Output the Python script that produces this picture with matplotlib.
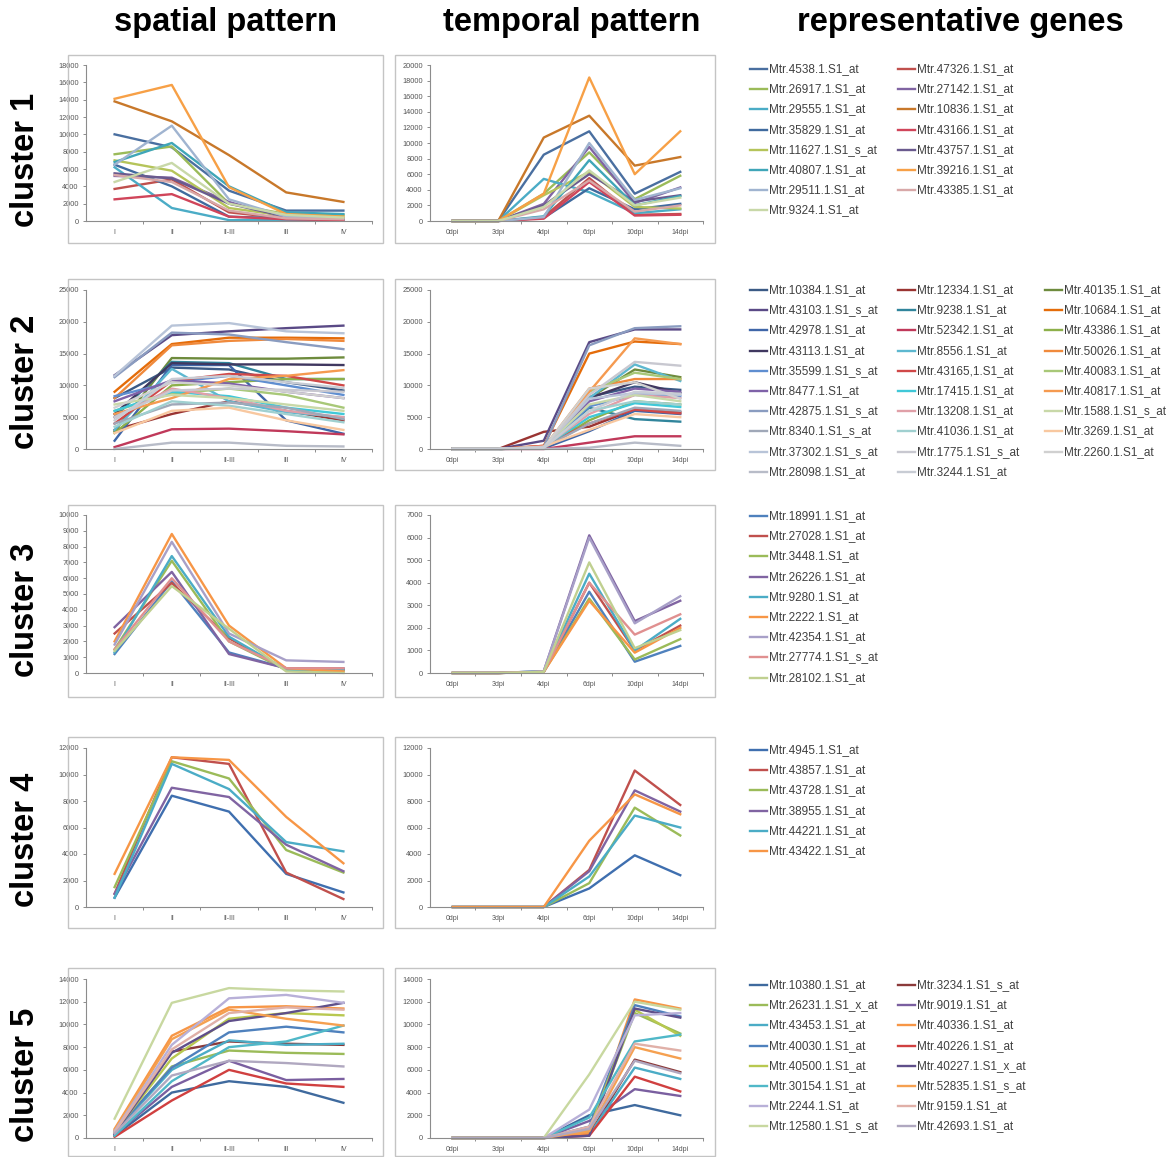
import numpy as np
import matplotlib
matplotlib.use('Agg')
import matplotlib.pyplot as plt
from matplotlib.lines import Line2D
from matplotlib.patches import Rectangle

plt.rcParams['font.family'] = ['Liberation Sans', 'DejaVu Sans']

W, H = 1169, 1157

spatial_stages = ['I', 'II', 'II-III', 'III', 'IV']
temporal_stages = ['0dpi', '3dpi', '4dpi', '6dpi', '10dpi', '14dpi']

# ---- cluster 1 ----
c1_genes = ['Mtr.4538.1.S1_at', 'Mtr.47326.1.S1_at', 'Mtr.26917.1.S1_at', 'Mtr.27142.1.S1_at',
            'Mtr.29555.1.S1_at', 'Mtr.10836.1.S1_at', 'Mtr.35829.1.S1_at', 'Mtr.43166.1.S1_at',
            'Mtr.11627.1.S1_s_at', 'Mtr.43757.1.S1_at', 'Mtr.40807.1.S1_at', 'Mtr.39216.1.S1_at',
            'Mtr.29511.1.S1_at', 'Mtr.43385.1.S1_at', 'Mtr.9324.1.S1_at']
c1_spatial = [
    [10000, 8500, 3500, 1200, 1200],
    [3700, 4800, 1000, 300, 200],
    [7700, 8600, 2000, 800, 700],
    [5200, 5000, 2200, 300, 300],
    [6200, 1500, 100, 100, 100],
    [13800, 11500, 7600, 3300, 2200],
    [6500, 4000, 500, 300, 200],
    [2500, 3100, 500, 200, 100],
    [7000, 5800, 1500, 600, 500],
    [5500, 4900, 2000, 500, 300],
    [6800, 9000, 4000, 1000, 800],
    [14100, 15700, 3900, 800, 500],
    [6500, 11000, 2500, 500, 300],
    [5300, 4500, 1200, 300, 200],
    [4500, 6700, 2000, 700, 400],
]
c1_temporal = [
    [0, 0, 8500, 11500, 3500, 6300],
    [0, 0, 500, 5500, 800, 900],
    [0, 0, 3500, 8800, 2800, 5800],
    [0, 0, 2200, 9500, 2300, 4300],
    [0, 0, 5400, 3700, 1000, 1500],
    [0, 0, 10700, 13500, 7100, 8200],
    [0, 0, 400, 4200, 1500, 2200],
    [0, 0, 300, 5000, 700, 800],
    [0, 0, 3300, 6300, 1800, 1600],
    [0, 0, 2000, 6000, 2500, 3300],
    [0, 0, 600, 7800, 2000, 3200],
    [0, 0, 3500, 18400, 6000, 11500],
    [0, 0, 500, 10000, 2700, 4200],
    [0, 0, 1500, 5200, 1200, 2000],
    [0, 0, 1800, 6500, 2000, 3000],
]

# ---- cluster 2 ----
c2_genes = ['Mtr.10384.1.S1_at', 'Mtr.12334.1.S1_at', 'Mtr.40135.1.S1_at',
            'Mtr.43103.1.S1_s_at', 'Mtr.9238.1.S1_at', 'Mtr.10684.1.S1_at',
            'Mtr.42978.1.S1_at', 'Mtr.52342.1.S1_at', 'Mtr.43386.1.S1_at',
            'Mtr.43113.1.S1_at', 'Mtr.8556.1.S1_at', 'Mtr.50026.1.S1_at',
            'Mtr.35599.1.S1_s_at', 'Mtr.43165,1.S1_at', 'Mtr.40083.1.S1_at',
            'Mtr.8477.1.S1_at', 'Mtr.17415.1.S1_at', 'Mtr.40817.1.S1_at',
            'Mtr.42875.1.S1_s_at', 'Mtr.13208.1.S1_at', 'Mtr.1588.1.S1_s_at',
            'Mtr.8340.1.S1_s_at', 'Mtr.41036.1.S1_at', 'Mtr.3269.1.S1_at',
            'Mtr.37302.1.S1_s_at', 'Mtr.1775.1.S1_s_at', 'Mtr.2260.1.S1_at',
            'Mtr.28098.1.S1_at', 'Mtr.3244.1.S1_at']
c2_spatial = [
    [8000, 12800, 12500, 10500, 9200],
    [3000, 5500, 7500, 6000, 4500],
    [2800, 14300, 14200, 14200, 14400],
    [11600, 17900, 18500, 19000, 19400],
    [5000, 13700, 13500, 11000, 11000],
    [9000, 16500, 17500, 17500, 17400],
    [1300, 13200, 13200, 4500, 2400],
    [300, 3100, 3200, 2800, 2300],
    [2500, 10000, 10500, 11000, 11000],
    [5500, 13500, 13300, 13300, 13200],
    [3000, 12600, 7500, 5800, 5000],
    [8000, 16300, 17000, 17300, 17000],
    [8300, 10500, 11500, 10000, 8500],
    [4000, 10700, 11800, 11500, 10000],
    [6000, 8700, 9500, 8500, 6500],
    [7500, 10800, 10300, 9000, 8000],
    [6000, 9000, 8300, 6500, 5500],
    [5500, 8000, 11000, 11500, 12400],
    [11300, 18300, 18000, 16800, 15700],
    [5000, 9500, 8000, 6000, 5000],
    [7000, 8500, 8000, 7000, 6000],
    [4000, 7000, 7300, 6500, 4700],
    [3500, 7500, 6800, 5500, 4200],
    [2500, 6000, 6500, 4500, 3000],
    [11500, 19400, 19800, 18500, 18200],
    [5000, 9200, 9500, 9300, 9000],
    [6500, 10500, 10000, 9000, 8000],
    [0, 1000, 1000, 500, 400],
    [4500, 11000, 11500, 10500, 9600],
]
c2_temporal = [
    [0, 0, 300, 8200, 9800, 9300],
    [0, 0, 2700, 3500, 6200, 5800],
    [0, 0, 200, 8000, 12500, 11300],
    [0, 0, 1300, 16800, 18800, 18800],
    [0, 0, 300, 6500, 4700, 4300],
    [0, 0, 500, 15000, 16900, 16500],
    [0, 0, 100, 2800, 6000, 5500],
    [0, 0, 0, 1000, 2000, 2000],
    [0, 0, 200, 4500, 7500, 7000],
    [0, 0, 300, 8000, 10500, 8800],
    [0, 0, 200, 8000, 13300, 10700],
    [0, 0, 200, 9500, 11000, 11000],
    [0, 0, 200, 6700, 8500, 8300],
    [0, 0, 500, 4000, 6200, 5600],
    [0, 0, 200, 9000, 12000, 11000],
    [0, 0, 300, 7500, 9500, 9000],
    [0, 0, 300, 5000, 7200, 6600],
    [0, 0, 200, 9000, 17400, 16500],
    [0, 0, 300, 16300, 19000, 19300],
    [0, 0, 300, 5500, 8500, 8000],
    [0, 0, 300, 7000, 8500, 7500],
    [0, 0, 200, 4000, 6500, 6000],
    [0, 0, 200, 6000, 7500, 7000],
    [0, 0, 400, 3000, 5500, 5000],
    [0, 0, 300, 7900, 8800, 8500],
    [0, 0, 100, 8500, 13700, 13100],
    [0, 0, 200, 9500, 10500, 7900],
    [0, 0, 0, 200, 1000, 500],
    [0, 0, 200, 6000, 9000, 8700],
]

# ---- cluster 3 ----
c3_genes = ['Mtr.18991.1.S1_at', 'Mtr.27028.1.S1_at', 'Mtr.3448.1.S1_at', 'Mtr.26226.1.S1_at',
            'Mtr.9280.1.S1_at', 'Mtr.2222.1.S1_at', 'Mtr.42354.1.S1_at', 'Mtr.27774.1.S1_s_at',
            'Mtr.28102.1.S1_at']
c3_spatial = [
    [1200, 5800, 1300, 300, 200],
    [2500, 5700, 2200, 200, 200],
    [1500, 7100, 2000, 200, 100],
    [2900, 6400, 1200, 300, 300],
    [1300, 7400, 2300, 200, 200],
    [2000, 8800, 3000, 300, 100],
    [1800, 8300, 2500, 800, 700],
    [1500, 6000, 2000, 300, 300],
    [1400, 5500, 2800, 100, 0],
]
c3_temporal = [
    [0, 0, 50, 3600, 500, 1200],
    [0, 0, 50, 4000, 1000, 2100],
    [0, 0, 50, 3300, 600, 1500],
    [0, 0, 80, 6100, 2300, 3200],
    [0, 0, 80, 4400, 1000, 2400],
    [0, 0, 50, 3200, 900, 2000],
    [0, 0, 80, 6000, 2200, 3400],
    [0, 0, 50, 4000, 1700, 2600],
    [0, 0, 50, 4900, 1100, 1900],
]

# ---- cluster 4 ----
c4_genes = ['Mtr.4945.1.S1_at', 'Mtr.43857.1.S1_at', 'Mtr.43728.1.S1_at',
            'Mtr.38955.1.S1_at', 'Mtr.44221.1.S1_at', 'Mtr.43422.1.S1_at']
c4_spatial = [
    [700, 8400, 7200, 2500, 1100],
    [1000, 11300, 10800, 2600, 600],
    [1500, 11000, 9700, 4300, 2600],
    [1000, 9000, 8300, 4700, 2700],
    [700, 10800, 8900, 4900, 4200],
    [2500, 11300, 11100, 6800, 3300],
]
c4_temporal = [
    [0, 0, 0, 1400, 3900, 2400],
    [0, 0, 0, 2800, 10300, 7700],
    [0, 0, 0, 1800, 7500, 5400],
    [0, 0, 0, 2700, 8800, 7200],
    [0, 0, 0, 2300, 6900, 6000],
    [0, 0, 0, 5000, 8500, 7000],
]

# ---- cluster 5 ----
c5_genes = ['Mtr.10380.1.S1_at', 'Mtr.3234.1.S1_s_at', 'Mtr.26231.1.S1_x_at', 'Mtr.9019.1.S1_at',
            'Mtr.43453.1.S1_at', 'Mtr.40336.1.S1_at', 'Mtr.40030.1.S1_at', 'Mtr.40226.1.S1_at',
            'Mtr.40500.1.S1_at', 'Mtr.40227.1.S1_x_at', 'Mtr.30154.1.S1_at', 'Mtr.52835.1.S1_s_at',
            'Mtr.2244.1.S1_at', 'Mtr.9159.1.S1_at', 'Mtr.12580.1.S1_s_at', 'Mtr.42693.1.S1_at']
c5_spatial = [
    [200, 4000, 5000, 4500, 3100],
    [300, 7600, 8500, 8300, 8200],
    [400, 6300, 7700, 7500, 7400],
    [300, 4500, 6800, 5100, 5200],
    [500, 6000, 8600, 8200, 8300],
    [800, 9000, 11500, 11600, 11400],
    [600, 6200, 9300, 9800, 9300],
    [100, 3300, 6000, 4800, 4500],
    [500, 7000, 10500, 11000, 10800],
    [400, 7500, 10300, 11000, 11900],
    [200, 5000, 8000, 8500, 9900],
    [700, 8700, 11300, 10500, 9900],
    [600, 8200, 12300, 12600, 11900],
    [500, 7800, 11000, 11500, 11300],
    [1700, 11900, 13200, 13000, 12900],
    [400, 5500, 6800, 6600, 6300],
]
c5_temporal = [
    [0, 0, 0, 2000, 2900, 2000],
    [0, 0, 0, 300, 6900, 5800],
    [0, 0, 0, 500, 11000, 9200],
    [0, 0, 0, 1500, 4300, 3700],
    [0, 0, 0, 300, 6200, 5200],
    [0, 0, 0, 400, 12200, 11400],
    [0, 0, 0, 1000, 11700, 10700],
    [0, 0, 0, 200, 5400, 4100],
    [0, 0, 0, 700, 11300, 9000],
    [0, 0, 0, 200, 11400, 10600],
    [0, 0, 0, 1800, 8500, 9100],
    [0, 0, 0, 600, 8000, 7000],
    [0, 0, 0, 2500, 10800, 11000],
    [0, 0, 0, 1000, 8300, 7700],
    [0, 0, 0, 5600, 12000, 11300],
    [0, 0, 0, 800, 6800, 5700],
]

# 颜色（按图例估计）
c1_colors = ['#4A6FA0', '#C0504D', '#9BBB59', '#8064A2', '#4BACC6', '#C8782A', '#3F6A9E',
             '#D0455A', '#B5C45A', '#6A5A8E', '#3FA6B8', '#F7A046', '#A0B4D0', '#D8A8A8', '#C8D8A8']
c2_colors = ['#3B5A85', '#9A3432', '#6E8B3D', '#5A4A86', '#31859C', '#E46C0A', '#3F66A8',
             '#C0395A', '#8DB04A', '#403860', '#5DB8D0', '#F08A3C', '#5F8ED0', '#D04848',
             '#A8C878', '#7F62A8', '#40C8D8', '#F59A50', '#8A9CC0', '#E0A0A8', '#C8D8A8',
             '#A0A8B8', '#A0D0D0', '#F8C8A0', '#B8C4D8', '#C8C8D0', '#D0D0D0', '#B8BCC8', '#C8CCD4']
c3_colors = ['#4F81BD', '#C0504D', '#9BBB59', '#8064A2', '#4BACC6', '#F79646',
             '#A8A0C8', '#E09090', '#C0D090']
c4_colors = ['#3F6FAF', '#C0504D', '#9BBB59', '#8064A2', '#4BACC6', '#F79646']
c5_colors = ['#3F6A9E', '#8B3A3A', '#9BBB59', '#7A5FA0', '#4BACC6', '#F79646', '#4F81BD',
             '#D04040', '#B8C850', '#5F4F8A', '#50B8C8', '#F5A050', '#B8B0D8', '#E0B0A8',
             '#C8D8A0', '#B0A8C0']

clusters = [
    (c1_genes, c1_spatial, c1_temporal, c1_colors, (18000, 2000), (20000, 2000), 2),
    (c2_genes, c2_spatial, c2_temporal, c2_colors, (25000, 5000), (25000, 5000), 3),
    (c3_genes, c3_spatial, c3_temporal, c3_colors, (10000, 1000), (7000, 1000), 1),
    (c4_genes, c4_spatial, c4_temporal, c4_colors, (12000, 2000), (12000, 2000), 1),
    (c5_genes, c5_spatial, c5_temporal, c5_colors, (14000, 2000), (14000, 2000), 2),
]

# 布局（像素）: 框上, 框下, 绘图区上, 绘图区下, 图例首行, 行标签中心
rows = [
    (55, 243, 65, 221, 69, 160),
    (279, 470, 290, 449, 290, 382),
    (505, 697, 515, 673, 516, 610),
    (737, 928, 748, 907, 750, 840),
    (968, 1156, 979, 1138, 985, 1075),
]
spatial_box_x = (68, 383)
temporal_box_x = (395, 715)
spatial_plot_x = (86, 372)
temporal_plot_x = (430, 703)
legend_cols_x = [750, 898, 1045]

fig = plt.figure(figsize=(W / 100, H / 100), dpi=100)


def add_px_axes(x0, y0, x1, y1):
    return fig.add_axes([x0 / W, 1 - y1 / H, (x1 - x0) / W, (y1 - y0) / H])


def add_box(x0, y0, x1, y1):
    fig.add_artist(Rectangle((x0 / W, 1 - y1 / H), (x1 - x0) / W, (y1 - y0) / H,
                             transform=fig.transFigure, fill=False,
                             edgecolor='#C4C4C4', lw=1.0))


def draw_panel(ax, stages, series, colors, ymax, ystep):
    x = np.arange(len(stages))
    for vals, col in zip(series, colors):
        ax.plot(x, vals, color=col, lw=1.7, clip_on=False)
    ax.set_xlim(-0.5, len(stages) - 0.5)
    ax.set_ylim(0, ymax)
    ax.set_yticks(np.arange(0, ymax + 1, ystep))
    ax.set_xticks(x)
    ax.set_xticklabels(stages)
    ax.set_xticks(np.arange(len(stages)) + 0.5, minor=True)
    for s in ['top', 'right']:
        ax.spines[s].set_visible(False)
    for s in ['left', 'bottom']:
        ax.spines[s].set_color('#8C8C8C')
        ax.spines[s].set_linewidth(0.8)
    ax.tick_params(axis='x', which='major', length=0, pad=6, labelsize=5, labelcolor='#555555')
    ax.tick_params(axis='x', which='minor', length=2.5, color='#8C8C8C', width=0.7)
    ax.tick_params(axis='y', length=2.2, pad=3, labelsize=5.3, labelcolor='#555555',
                   color='#8C8C8C', width=0.7)
    ax.patch.set_alpha(0)


for k, ((genes, spat, temp, colors, sp_lim, tp_lim, ncol), row) in enumerate(zip(clusters, rows)):
    by0, by1, py0, py1, ly, lab_y = row
    add_box(spatial_box_x[0], by0, spatial_box_x[1], by1)
    add_box(temporal_box_x[0], by0, temporal_box_x[1], by1)

    ax_s = add_px_axes(spatial_plot_x[0], py0, spatial_plot_x[1], py1)
    draw_panel(ax_s, spatial_stages, spat, colors, *sp_lim)
    ax_t = add_px_axes(temporal_plot_x[0], py0, temporal_plot_x[1], py1)
    draw_panel(ax_t, temporal_stages, temp, colors, *tp_lim)

    # 图例（按行排列）
    for i, (name, col) in enumerate(zip(genes, colors)):
        r, c = divmod(i, ncol)
        x0 = legend_cols_x[c]
        y = ly + r * 20.2
        fig.add_artist(Line2D([x0 / W, (x0 + 17) / W], [1 - y / H, 1 - y / H],
                              transform=fig.transFigure, color=col, lw=1.7))
        fig.text((x0 + 19) / W, 1 - y / H, name, ha='left', va='center',
                 fontsize=8.5, color='#404040')

    fig.text(25 / W, 1 - lab_y / H, 'cluster %d' % (k + 1), rotation=90,
             ha='center', va='center', fontsize=23.5, fontweight='bold')

for label, xc in [('spatial pattern', 226), ('temporal pattern', 572), ('representative genes', 960)]:
    fig.text(xc / W, 1 - 23 / H, label, ha='center', va='center',
             fontsize=23.5, fontweight='bold')

fig.savefig('out.png', dpi=100, facecolor='white')
